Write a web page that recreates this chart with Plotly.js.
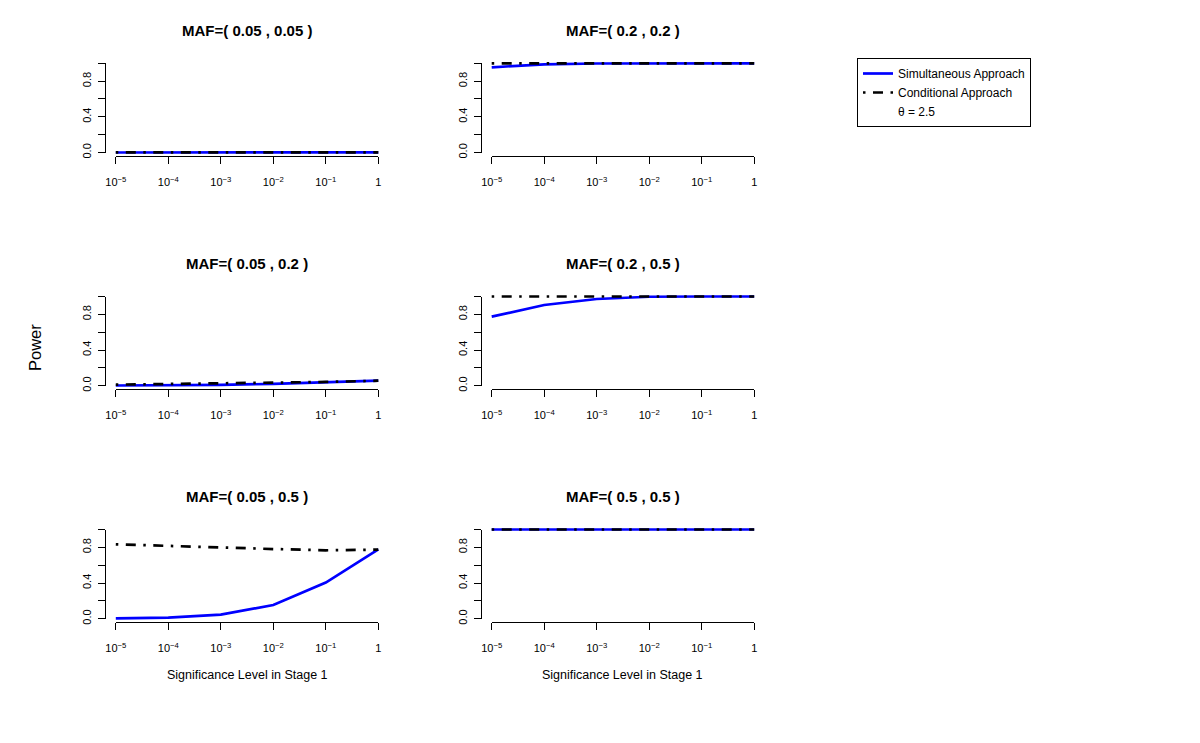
<!DOCTYPE html>
<html>
<head>
<meta charset="utf-8">
<script src="https://cdn.plot.ly/plotly-3.0.1.min.js"></script>
<style>html,body{margin:0;padding:0;background:#fff;}</style>
</head>
<body>
<div id="chart" style="width:1200px;height:743px;"></div>
<script>
// ---------------- data ----------------
const alphaLevels = [1e-5, 1e-4, 1e-3, 1e-2, 1e-1, 1];
const xTickLabels = ['10<sup>−5</sup>', '10<sup>−4</sup>', '10<sup>−3</sup>', '10<sup>−2</sup>', '10<sup>−1</sup>', '1'];
const yTickVals = [0, 0.2, 0.4, 0.6, 0.8, 1.0];
const yTickLabels = ['0.0', '', '0.4', '', '0.8', ''];

const panelTitles = [
  'MAF=( 0.05 , 0.05 )', 'MAF=( 0.2 , 0.2 )',
  'MAF=( 0.05 , 0.2 )',  'MAF=( 0.2 , 0.5 )',
  'MAF=( 0.05 , 0.5 )',  'MAF=( 0.5 , 0.5 )'
];

const simul_005_005 = [0.000, 0.000, 0.000, 0.001, 0.001, 0.002];
const cond_005_005  = [0.001, 0.001, 0.001, 0.001, 0.001, 0.002];
const simul_02_02   = [0.955, 0.989, 0.998, 1.000, 1.000, 1.000];
const cond_02_02    = [1.000, 1.000, 1.000, 1.000, 1.000, 1.000];
const simul_005_02  = [0.002, 0.005, 0.010, 0.020, 0.034, 0.056];
const cond_005_02   = [0.012, 0.018, 0.025, 0.032, 0.042, 0.056];
const simul_02_05   = [0.774, 0.905, 0.972, 0.997, 1.000, 1.000];
const cond_02_05    = [1.000, 1.000, 1.000, 1.000, 1.000, 1.000];
const simul_005_05  = [0.004, 0.011, 0.045, 0.154, 0.405, 0.778];
const cond_005_05   = [0.834, 0.815, 0.796, 0.781, 0.767, 0.774];
const simul_05_05   = [1.000, 1.000, 1.000, 1.000, 1.000, 1.000];
const cond_05_05    = [1.000, 1.000, 1.000, 1.000, 1.000, 1.000];

const simulSeries = [simul_005_005, simul_02_02, simul_005_02, simul_02_05, simul_005_05, simul_05_05];
const condSeries  = [cond_005_005,  cond_02_02,  cond_005_02,  cond_02_05,  cond_005_05,  cond_05_05];

const legendNames = ['Simultaneous Approach', 'Conditional Approach', 'θ = 2.5'];
const xLabel = 'Significance Level in Stage 1';
const yLabel = 'Power';

// ---------------- layout geometry (pixels) ----------------
const W = 1200, H = 743;
const colLeft = [105.3, 481.2];
const rowTop = [63.3, 296.5, 529.5];
const tickSpan = 262.5, valSpan = 89.2;
const padX = 0.04 * tickSpan, padY = 0.04 * valSpan;
const FONT = 'Liberation Sans, Arial, Helvetica, sans-serif';
const dashPattern = '2.5px,7.5px,10px,7.5px';

const traces = [];
const layout = {
  width: W, height: H,
  margin: {l: 0, r: 0, t: 0, b: 0},
  paper_bgcolor: '#ffffff', plot_bgcolor: 'rgba(0,0,0,0)',
  font: {family: FONT, color: '#000', size: 11},
  showlegend: true,
  legend: {
    x: 857 / W, y: 1 - 58 / H, xanchor: 'left', yanchor: 'top',
    bgcolor: '#ffffff', bordercolor: '#000', borderwidth: 1,
    font: {family: FONT, size: 12, color: '#000'},
    tracegroupgap: 0, itemwidth: 30
  },
  annotations: []
};

for (let i = 0; i < 6; i++) {
  const r = Math.floor(i / 2), c = i % 2;
  const L = colLeft[c], T = rowTop[r];
  const k = i + 1, f = i + 7;
  const regTop = T - padY, regBot = T + valSpan + padY;
  const regRight = L + tickSpan + 2 * padX;

  // data axes (invisible, padded like R)
  layout['xaxis' + k] = {
    type: 'log', domain: [L / W, regRight / W],
    range: [Math.log10(alphaLevels[0]) - 0.2, Math.log10(alphaLevels[alphaLevels.length - 1]) + 0.2],
    autorange: false, visible: false, anchor: 'y' + k
  };
  layout['yaxis' + k] = {
    domain: [1 - regBot / H, 1 - regTop / H],
    range: [-0.04, 1.04], autorange: false, visible: false, anchor: 'x' + k
  };
  // frame axes (R style: lines span tick range only)
  layout['xaxis' + f] = {
    type: 'log', domain: [(L + padX) / W, (L + padX + tickSpan) / W],
    range: [Math.log10(alphaLevels[0]), Math.log10(alphaLevels[alphaLevels.length - 1])],
    autorange: false, anchor: 'free', position: 1 - regBot / H, side: 'bottom',
    showline: true, linecolor: '#000', linewidth: 1,
    ticks: 'outside', ticklen: 7, tickwidth: 1, tickcolor: '#000',
    tickmode: 'array', tickvals: alphaLevels, ticktext: xTickLabels,
    ticklabelstandoff: 9,
    tickfont: {family: FONT, size: 11, color: '#000'},
    showgrid: false, zeroline: false, fixedrange: true
  };
  layout['yaxis' + f] = {
    domain: [1 - (T + valSpan) / H, 1 - T / H],
    range: [0, 1], autorange: false, anchor: 'free', position: L / W, side: 'left',
    showline: true, linecolor: '#000', linewidth: 1,
    ticks: 'outside', ticklen: 7, tickwidth: 1, tickcolor: '#000',
    tickmode: 'array', tickvals: yTickVals, ticktext: yTickLabels, tickangle: -90,
    ticklabelstandoff: 3,
    tickfont: {family: FONT, size: 11, color: '#000'},
    showgrid: false, zeroline: false, fixedrange: true
  };

  traces.push({
    type: 'scatter', mode: 'lines', x: alphaLevels, y: simulSeries[i],
    xaxis: 'x' + k, yaxis: 'y' + k,
    line: {color: '#0000ff', width: 2.7},
    name: legendNames[0], legendgroup: 's', showlegend: i === 0, hoverinfo: 'skip'
  });
  traces.push({
    type: 'scatter', mode: 'lines', x: alphaLevels, y: condSeries[i],
    xaxis: 'x' + k, yaxis: 'y' + k,
    line: {color: '#000000', width: 2.7, dash: dashPattern},
    name: legendNames[1], legendgroup: 'c', showlegend: i === 0, hoverinfo: 'skip'
  });
  // empty trace to register the frame subplot
  traces.push({
    type: 'scatter', mode: 'lines', x: [], y: [],
    xaxis: 'x' + f, yaxis: 'y' + f, showlegend: false, hoverinfo: 'skip'
  });

  layout.annotations.push({
    text: '<b>' + panelTitles[i] + '</b>', showarrow: false,
    xref: 'paper', yref: 'paper',
    x: (L + regRight) / 2 / W, y: 1 - (T - 33.3) / H,
    xanchor: 'center', yanchor: 'middle',
    font: {family: FONT, size: 15, color: '#000'}
  });
  if (r === 2) {
    layout.annotations.push({
      text: xLabel, showarrow: false, xref: 'paper', yref: 'paper',
      x: (L + regRight) / 2 / W, y: 1 - 675 / H,
      xanchor: 'center', yanchor: 'middle',
      font: {family: FONT, size: 12.5, color: '#000'}
    });
  }
}

// legend-only entry for the parameter note (no line drawn, no visible points)
traces.push({
  type: 'scatter', mode: 'lines', x: alphaLevels, y: alphaLevels.map(() => null),
  xaxis: 'x1', yaxis: 'y1',
  line: {color: 'rgba(0,0,0,0)', width: 0},
  name: legendNames[2], showlegend: true, hoverinfo: 'skip'
});

layout.annotations.push({
  text: yLabel, showarrow: false, xref: 'paper', yref: 'paper',
  x: 35 / W, y: 1 - 348 / H, xanchor: 'center', yanchor: 'middle', textangle: -90,
  font: {family: FONT, size: 16.5, color: '#000'}
});

Plotly.newPlot('chart', traces, layout, {displayModeBar: false, staticPlot: true});
</script>
</body>
</html>
